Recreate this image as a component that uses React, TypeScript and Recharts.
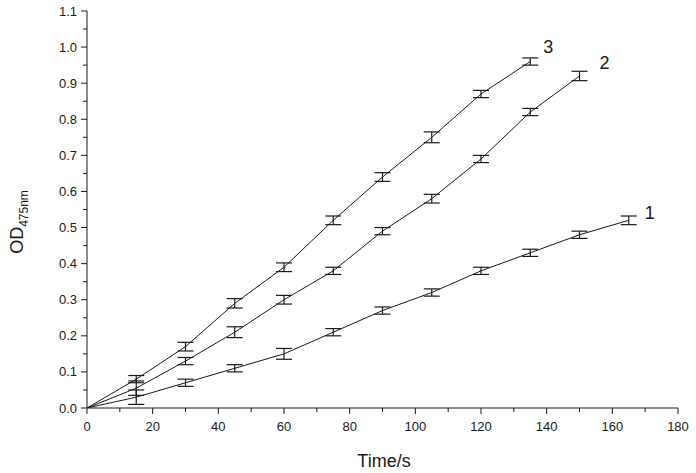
import * as React from 'react';
import { LineChart, Line, XAxis, YAxis, ErrorBar, LabelList } from 'recharts';

// time points (s)
const times = [0, 15, 30, 45, 60, 75, 90, 105, 120, 135, 150, 165];

// OD475 readings per curve
const od1 = [0, 0.03, 0.07, 0.11, 0.15, 0.21, 0.27, 0.32, 0.38, 0.43, 0.48, 0.52];
const err1 = [0, 0.02, 0.01, 0.01, 0.015, 0.01, 0.01, 0.01, 0.01, 0.01, 0.01, 0.012];
const od2 = [0, 0.055, 0.13, 0.21, 0.30, 0.38, 0.49, 0.58, 0.69, 0.82, 0.92];
const err2 = [0, 0.02, 0.01, 0.015, 0.012, 0.01, 0.01, 0.012, 0.01, 0.01, 0.013];
const od3 = [0, 0.08, 0.17, 0.29, 0.39, 0.52, 0.64, 0.75, 0.87, 0.96];
const err3 = [0, 0.01, 0.012, 0.013, 0.012, 0.012, 0.012, 0.015, 0.01, 0.01];

const curveNames = ['1', '2', '3'];

const xTicks = [0, 10, 20, 30, 40, 50, 60, 70, 80, 90, 100, 110, 120, 130, 140, 150, 160, 170, 180];
const yTicks = [0, 0.05, 0.1, 0.15, 0.2, 0.25, 0.3, 0.35, 0.4, 0.45, 0.5, 0.55, 0.6, 0.65, 0.7, 0.75, 0.8, 0.85, 0.9, 0.95, 1.0, 1.05, 1.1];

const build = (vals: number[], errs: number[]) =>
  vals.map((v, i) => ({ x: times[i], y: v, e: errs[i] }));

const series = [
  { name: curveNames[0], data: build(od1, err1), dx: 21, dy: -7 },
  { name: curveNames[1], data: build(od2, err2), dx: 25, dy: -13 },
  { name: curveNames[2], data: build(od3, err3), dx: 18, dy: -15 },
];

const FONT = '"Liberation Sans", Arial, sans-serif';
const INK = '#1a1a1a';

function XTick(props: any) {
  const { x, y, payload } = props;
  const v = payload.value as number;
  const major = v % 20 === 0;
  return (
    <g>
      <line x1={x} y1={y} x2={x} y2={y + (major ? 6 : 4)} stroke={INK} strokeWidth={1} />
      {major && (
        <text x={x} y={y + 23} textAnchor="middle" fontSize={13} fontFamily={FONT} fill={INK}>
          {v}
        </text>
      )}
    </g>
  );
}

function YTick(props: any) {
  const { x, y, payload } = props;
  const v = payload.value as number;
  const major = Math.abs(v * 10 - Math.round(v * 10)) < 1e-6;
  return (
    <g>
      <line x1={x} y1={y} x2={x - (major ? 6 : 4)} y2={y} stroke={INK} strokeWidth={1} />
      {major && (
        <text x={x - 10} y={y + 4.5} textAnchor="end" fontSize={13} fontFamily={FONT} fill={INK}>
          {v.toFixed(1)}
        </text>
      )}
    </g>
  );
}

function EndLabel(text: string, count: number, dx: number, dy: number) {
  return (p: any) => {
    if (p.index !== count - 1) return null;
    return (
      <text x={p.x + dx} y={p.y + dy + 6} textAnchor="middle" fontSize={18} fontFamily={FONT} fill={INK}>
        {text}
      </text>
    );
  };
}

export default function App() {
  return (
    <div style={{ position: 'absolute', left: 0, top: 0, width: 696, height: 473, background: '#fff' }}>
      <LineChart width={696} height={473} margin={{ top: 11, right: 18, bottom: 15, left: 27 }}>
        <XAxis
          type="number"
          dataKey="x"
          domain={[0, 180]}
          ticks={xTicks}
          interval={0}
          height={50}
          tickLine={false}
          tickSize={0}
          tickMargin={0}
          tick={<XTick />}
          axisLine={{ stroke: INK, strokeWidth: 1 }}
          allowDataOverflow
        />
        <YAxis
          type="number"
          dataKey="y"
          domain={[0, 1.1]}
          ticks={yTicks}
          interval={0}
          width={60}
          tickLine={false}
          tickSize={0}
          tickMargin={0}
          tick={<YTick />}
          axisLine={{ stroke: INK, strokeWidth: 1 }}
          allowDataOverflow
        />
        {series.map((s) => (
          <Line
            key={s.name}
            data={s.data}
            dataKey="y"
            type="linear"
            stroke={INK}
            strokeWidth={1}
            dot={false}
            activeDot={false}
            isAnimationActive={false}
          >
            <ErrorBar dataKey="e" direction="y" width={8} stroke={INK} strokeWidth={1.2} isAnimationActive={false} />
            <LabelList dataKey="y" content={EndLabel(s.name, s.data.length, s.dx, s.dy)} />
          </Line>
        ))}
      </LineChart>
      <svg width={696} height={473} style={{ position: 'absolute', left: 0, top: 0, pointerEvents: 'none' }}>
        <text
          transform="translate(23,222) rotate(-90)"
          textAnchor="middle"
          fontFamily={FONT}
          fill={INK}
          fontSize={18}
        >
          OD<tspan fontSize={12} dy={5}>475nm</tspan>
        </text>
        <text x={384} y={467} textAnchor="middle" fontFamily={FONT} fill={INK} fontSize={18}>
          Time/s
        </text>
      </svg>
    </div>
  );
}
